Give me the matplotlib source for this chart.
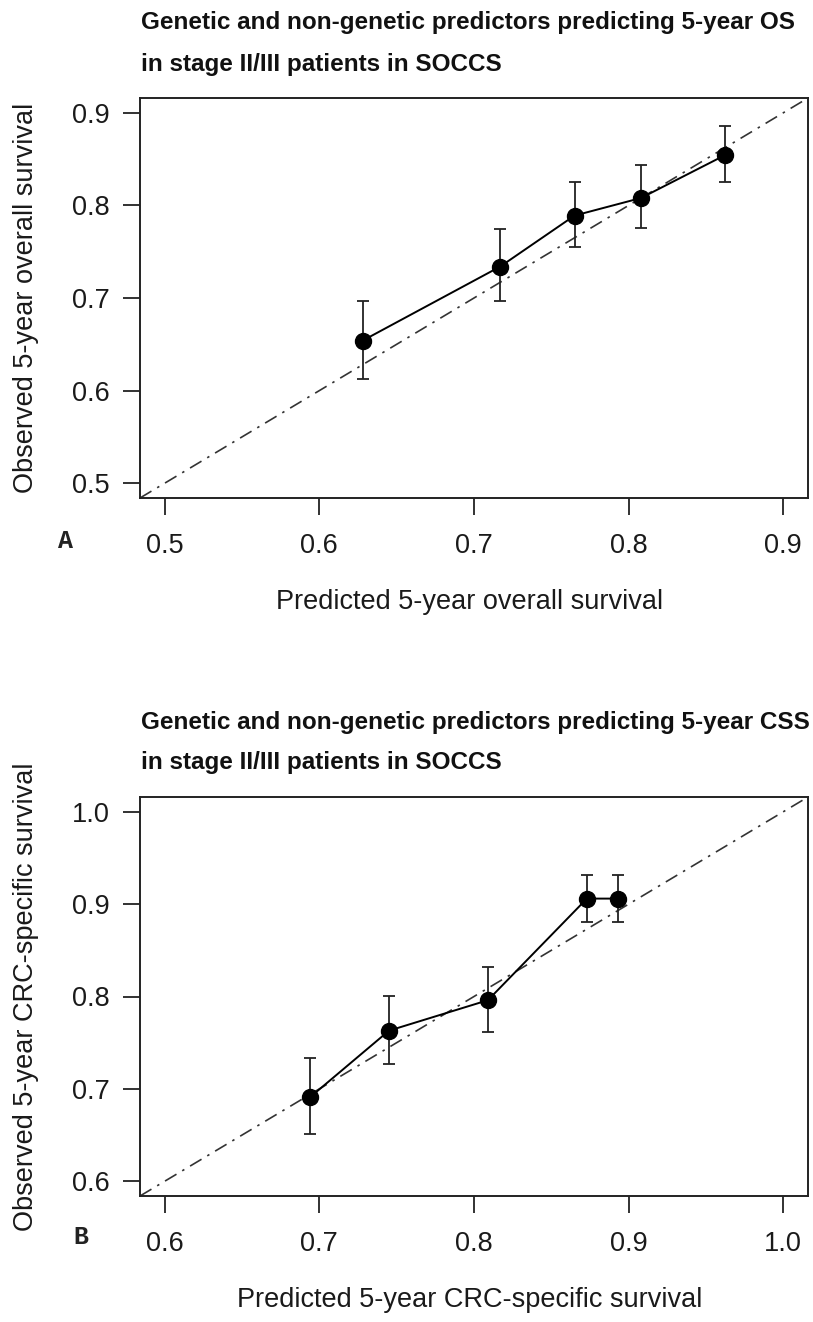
import matplotlib
matplotlib.use("Agg")
import matplotlib.pyplot as plt

# Calibration data: predicted vs observed 5-year survival with 95% CI
os_pred = [0.628, 0.717, 0.765, 0.808, 0.862]
os_obs = [0.654, 0.734, 0.789, 0.808, 0.854]
os_lo = [0.613, 0.697, 0.755, 0.776, 0.825]
os_hi = [0.697, 0.775, 0.825, 0.844, 0.886]
os_ticks = [0.5, 0.6, 0.7, 0.8, 0.9]

css_pred = [0.694, 0.745, 0.809, 0.873, 0.893]
css_obs = [0.691, 0.763, 0.796, 0.906, 0.906]
css_lo = [0.651, 0.727, 0.762, 0.881, 0.881]
css_hi = [0.733, 0.801, 0.832, 0.932, 0.932]
css_ticks = [0.6, 0.7, 0.8, 0.9, 1.0]

titles = [
    ["Genetic and non-genetic predictors predicting 5-year OS",
     "in stage II/III patients in SOCCS"],
    ["Genetic and non-genetic predictors predicting 5-year CSS",
     "in stage II/III patients in SOCCS"],
]
xlabels = ["Predicted 5-year overall survival", "Predicted 5-year CRC-specific survival"]
ylabels = ["Observed 5-year overall survival", "Observed 5-year CRC-specific survival"]
panel_tags = ["A", "B"]

plt.rcParams["font.family"] = ["Liberation Sans", "DejaVu Sans"]

W, H = 813, 1322
fig = plt.figure(figsize=(W / 100, H / 100), dpi=100)


def fx(px):
    return px / W


def fy(py):
    return 1 - py / H


TXT = "#1a1a1a"
FS = 19.5

panels = [
    dict(top=98, bottom=498, pred=os_pred, obs=os_obs, lo=os_lo, hi=os_hi,
         ticks=os_ticks, title_y=(23, 64), xlab_y=602, tag_xy=(66, 541)),
    dict(top=797, bottom=1196, pred=css_pred, obs=css_obs, lo=css_lo, hi=css_hi,
         ticks=css_ticks, title_y=(722, 763), xlab_y=1300, tag_xy=(81, 1237)),
]

for i, p in enumerate(panels):
    left, right = 140, 808
    ax = fig.add_axes([fx(left), fy(p["bottom"]), fx(right - left),
                       (p["bottom"] - p["top"]) / H])
    lo_lim, hi_lim = p["ticks"][0], p["ticks"][-1]
    pad = 0.04 * (hi_lim - lo_lim)
    ax.set_xlim(lo_lim - pad, hi_lim + pad)
    ax.set_ylim(lo_lim - pad, hi_lim + pad)

    # identity reference line
    ax.axline((lo_lim, lo_lim), slope=1, color="#333333", lw=1.2,
              linestyle=(0, (8, 4, 1.5, 4)), zorder=1)

    yerr = [[o - l for o, l in zip(p["obs"], p["lo"])],
            [h - o for o, h in zip(p["obs"], p["hi"])]]
    ax.errorbar(p["pred"], p["obs"], yerr=yerr, fmt="-o", color="black",
                ecolor="#222222", elinewidth=1.3, capsize=4.2, capthick=1.3,
                lw=1.4, markersize=11.5, zorder=3)

    ax.set_xticks(p["ticks"])
    ax.set_yticks(p["ticks"])
    ax.set_xticklabels([f"{t:.1f}" for t in p["ticks"]])
    ax.set_yticklabels([f"{t:.1f}" for t in p["ticks"]])
    ax.tick_params(axis="x", length=12, width=1.3, labelsize=FS, pad=13,
                   color="#222222", labelcolor=TXT)
    ax.tick_params(axis="y", length=12, width=1.3, labelsize=FS, pad=10,
                   color="#222222", labelcolor=TXT)
    for s in ax.spines.values():
        s.set_linewidth(1.4)
        s.set_color("#222222")

    fig.text(fx(26), fy((p["top"] + p["bottom"]) / 2), ylabels[i], fontsize=FS,
             rotation=90, ha="center", va="center", color=TXT)

    for line, ty in zip(titles[i], p["title_y"]):
        fig.text(fx(141), fy(ty), line, fontsize=17.5, fontweight="bold",
                 ha="left", va="center", color="#111111")
    fig.text(fx(470), fy(p["xlab_y"]), xlabels[i], fontsize=FS,
             ha="center", va="center", color=TXT)
    fig.text(fx(p["tag_xy"][0]), fy(p["tag_xy"][1]), panel_tags[i], fontsize=18,
             family=["Liberation Mono", "DejaVu Sans Mono"], fontweight="bold",
             ha="center", va="center", color="#222222")

fig.savefig("out.png", dpi=100)
